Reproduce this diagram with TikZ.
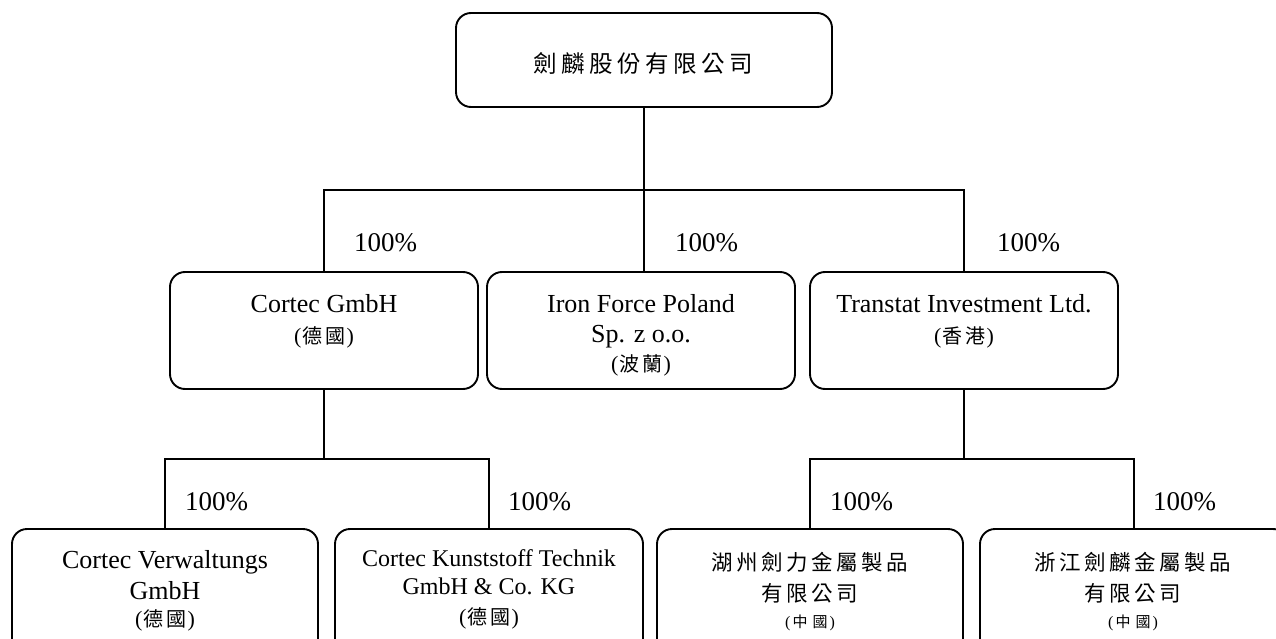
\documentclass[tikz,border=0pt]{standalone}
\usepackage{fontspec}
\setmainfont{Liberation Serif}
\newfontfamily\cjk{Noto Sans CJK TC}
\makeatletter
\newcommand\spc[2]{\let\spc@sep\empty\@tfor\spc@c:=#2\do{\spc@sep\spc@c\def\spc@sep{\kern#1}}}
\makeatother
\begin{document}
\begin{tikzpicture}[x=1pt,y=-1pt,
  box/.style={draw, line width=1.9pt, rounded corners=15pt, inner sep=0pt},
  midbox/.style={box, minimum width=308pt, minimum height=117pt},
  lowbox/.style={box, minimum width=306pt, minimum height=160pt},
  conn/.style={line width=1.9pt},
  pct/.style={anchor=base west, inner sep=0pt, font=\fontsize{27}{30}\selectfont},
  lat/.style={anchor=base, inner sep=0pt, font=\fontsize{26}{30}\selectfont},
  latsm/.style={anchor=base, inner sep=0pt, font=\fontsize{24}{28}\selectfont},
  cjkm/.style={anchor=center, inner sep=0pt, font=\fontsize{22}{26}\selectfont},
  cjkl/.style={anchor=center, inner sep=0pt, font=\fontsize{21.5}{25}\selectfont\cjk},
  cjks/.style={anchor=center, inner sep=0pt, font=\fontsize{16}{20}\selectfont}
]
\useasboundingbox (0,0) rectangle (1276,639);
\clip (0,0) rectangle (1276,639);

% boxes
\node[box, minimum width=376pt, minimum height=94pt] (top) at (644,60) {};
\node[midbox] (cortec) at (324,330.5) {};
\node[midbox] (iron) at (641,330.5) {};
\node[midbox] (trans) at (964,330.5) {};
\node[lowbox] (verw) at (165,609) {};
\node[lowbox, minimum width=308pt] (kunst) at (489,609) {};
\node[lowbox] (huz) at (810,609) {};
\node[lowbox, minimum width=308pt] (zhe) at (1134,609) {};

% connectors
\coordinate (bus1) at (644,190);
\coordinate (bus2) at (324,459);
\coordinate (bus3) at (964,459);
\draw[conn] (top.south) -- (bus1);
\draw[conn] (bus1) -| (cortec.north);
\draw[conn] (bus1) -| (trans.north);
\draw[conn] (bus1) -- (bus1 |- iron.north);
\draw[conn] (cortec.south) -- (bus2);
\draw[conn] (bus2) -| (verw.north);
\draw[conn] (bus2) -| (kunst.north);
\draw[conn] (trans.south) -- (bus3);
\draw[conn] (bus3) -| (huz.north);
\draw[conn] (bus3) -| (zhe.north);

% percentages
\node[pct] (p1) at (354,251) {100\%};
\node[pct] (p2) at (675,251) {100\%};
\node[pct] (p3) at (997,251) {100\%};
\node[pct] (p4) at (185,510) {100\%};
\node[pct] (p5) at (508,510) {100\%};
\node[pct] (p6) at (830,510) {100\%};
\node[pct] (p7) at (1153,510) {100\%};

% top title
\node[anchor=center, inner sep=0pt, font=\fontsize{23.5}{27}\selectfont\cjk] (ttl) at (643,64) {\spc{4.5pt}{劍麟股份有限公司}};

% middle row texts
\node[lat] (c1) at (324,312) {Cortec GmbH};
\node[cjkm] (c2) at (324,337) {(\kern1pt{\cjk\fontsize{20}{24}\selectfont\spc{3pt}{德國}}\kern1pt)};
\node[lat] (i1) at (641,312) {Iron Force Poland};
\node[lat] (i2) at (641,342) {Sp. z o.o.};
\node[cjkm] (i3) at (641,365) {(\kern1pt{\cjk\fontsize{20}{24}\selectfont\spc{3pt}{波蘭}}\kern1pt)};
\node[lat] (t1) at (964,312) {Transtat Investment Ltd.};
\node[cjkm] (t2) at (964,337) {(\kern1pt{\cjk\fontsize{20}{24}\selectfont\spc{3pt}{香港}}\kern1pt)};

% bottom row texts
\node[lat] (v1) at (165,568) {Cortec Verwaltungs};
\node[lat] (v2) at (165,599) {GmbH};
\node[cjkm] (v3) at (165,620) {(\kern1pt{\cjk\fontsize{20}{24}\selectfont\spc{3pt}{德國}}\kern1pt)};
\node[latsm] (k1) at (489,566) {Cortec Kunststoff Technik};
\node[latsm] (k2) at (489,594) {GmbH \& Co. KG};
\node[cjkm] (k3) at (489,618) {(\kern1pt{\cjk\fontsize{20}{24}\selectfont\spc{3pt}{德國}}\kern1pt)};
\node[cjkl] (h1) at (810,562) {\spc{3.5pt}{湖州劍力金屬製品}};
\node[cjkl] (h2) at (810,593) {\spc{3.5pt}{有限公司}};
\node[cjks] (h3) at (810,623) {(\kern2pt{\cjk\fontsize{15}{18}\selectfont\spc{5pt}{中國}}\kern2pt)};
\node[cjkl] (z1) at (1133,562) {\spc{3.5pt}{浙江劍麟金屬製品}};
\node[cjkl] (z2) at (1133,593) {\spc{3.5pt}{有限公司}};
\node[cjks] (z3) at (1133,623) {(\kern2pt{\cjk\fontsize{15}{18}\selectfont\spc{5pt}{中國}}\kern2pt)};
\end{tikzpicture}
\end{document}
